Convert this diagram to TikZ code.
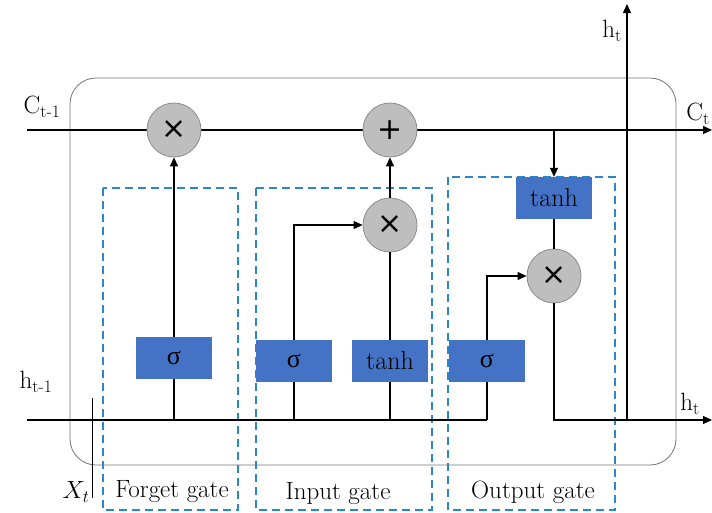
\documentclass[tikz,border=0pt]{standalone}
\usepackage{fontspec}
\newfontfamily\djv{DejaVu Sans}
\newfontfamily\libser{Liberation Serif}
\usetikzlibrary{arrows.meta}
\definecolor{boxblue}{RGB}{68,114,196}
\definecolor{dashblue}{RGB}{46,134,200}
\definecolor{opgray}{RGB}{190,190,190}
\definecolor{opedge}{RGB}{140,140,140}
\begin{document}
\begin{tikzpicture}[x=1pt,y=-1pt,
  line/.style={draw=black,line width=1.1pt},
  arr/.style={line,-{Triangle[length=9pt,width=8pt]}},
  op/.style={circle,fill=opgray,draw=opedge,line width=0.8pt,minimum size=54pt,inner sep=0pt,font=\djv\fontsize{30}{30}\selectfont},
  fn/.style={fill=boxblue,minimum width=76pt,minimum height=42pt,inner sep=0pt,font=\fontsize{26}{26}\selectfont},
  gatebox/.style={draw=dashblue,dash pattern=on 8pt off 5pt,line width=1.1pt},
  lbl/.style={font=\fontsize{25}{25}\selectfont,inner sep=0pt},
  cell/.style={draw=black!55,line width=0.8pt,rounded corners=26pt}]
\useasboundingbox (0,0) rectangle (712,512);
% cell outline
\draw[cell] (70,78) rectangle (676,465);
% gate boxes
\draw[gatebox] (103,188) rectangle (238,510);
\draw[gatebox] (256,188) rectangle (432,510);
\draw[gatebox] (448,177) rectangle (615,510);
% coordinates
\coordinate (cl) at (27,130);
\coordinate (cr) at (712,130);
\coordinate (hl) at (27,420);
\coordinate (hr) at (712,420);
% C line
\draw[arr] (cl) -- (cr);
% ops
\node[op] (fx) at (174,130) {×};
\node[op] (pl) at (390,130) {+};
\node[op] (ix) at (390,225) {×};
\node[op] (ox) at (554,276) {×};
% function boxes
\node[fn] (fs) at (174,358) {{\libser σ}};
\node[fn] (is) at (294,361) {{\libser σ}};
\node[fn] (it) at (390,361) {tanh};
\node[fn] (os) at (487,361) {{\libser σ}};
\node[fn] (ot) at (554,198) {tanh};
% h line in
\coordinate (hend) at (487,420);
\draw[line] (hl) -- (hend);
% forget
\draw[line] (fs.south) -- (fs.south |- hl);
\draw[arr] (fs.north) -- (fx.south);
% input
\draw[line] (is.south) -- (is.south |- hl);
\draw[arr] (is.north) -- (is.north |- ix.west) -- (ix.west);
\draw[line] (it.south) -- (it.south |- hl);
\draw[line] (it.north) -- (ix.south);
\draw[arr] (ix.north) -- (pl.south);
% output
\draw[line] (os.south) -- (hend);
\draw[arr] (os.north) -- (os.north |- ox.west) -- (ox.west);
\coordinate (ctap) at (554,130);
\draw[arr] (ctap) -- (ot.north);
\draw[line] (ot.south) -- (ox.north);
\draw[arr] (ox.south) -- (ox.south |- hr) -- (hr);
% h_t up
\coordinate (hup0) at (627,420);
\coordinate (hup1) at (627,4);
\draw[arr] (hup0) -- (hup1);
% X_t
\coordinate (xt0) at (92,398);
\coordinate (xt1) at (92,498);
\draw[line,line width=0.9pt] (xt0) -- (xt1);
% labels
\node[lbl] (lc1) at (42,107) {C\textsubscript{t-1}};
\node[lbl] (lc2) at (698,114) {C\textsubscript{t}};
\node[lbl] (lh1) at (36,382) {h\textsubscript{t-1}};
\node[lbl] (lh2) at (690,404) {h\textsubscript{t}};
\node[lbl] (lh3) at (612,31) {h\textsubscript{t}};
\node[lbl] (lx) at (76,492) {$X_t$};
\node[lbl] (g1) at (172,492) {Forget gate};
\node[lbl] (g2) at (338,494) {Input gate};
\node[lbl] (g3) at (533,492) {Output gate};
\end{tikzpicture}
\end{document}
